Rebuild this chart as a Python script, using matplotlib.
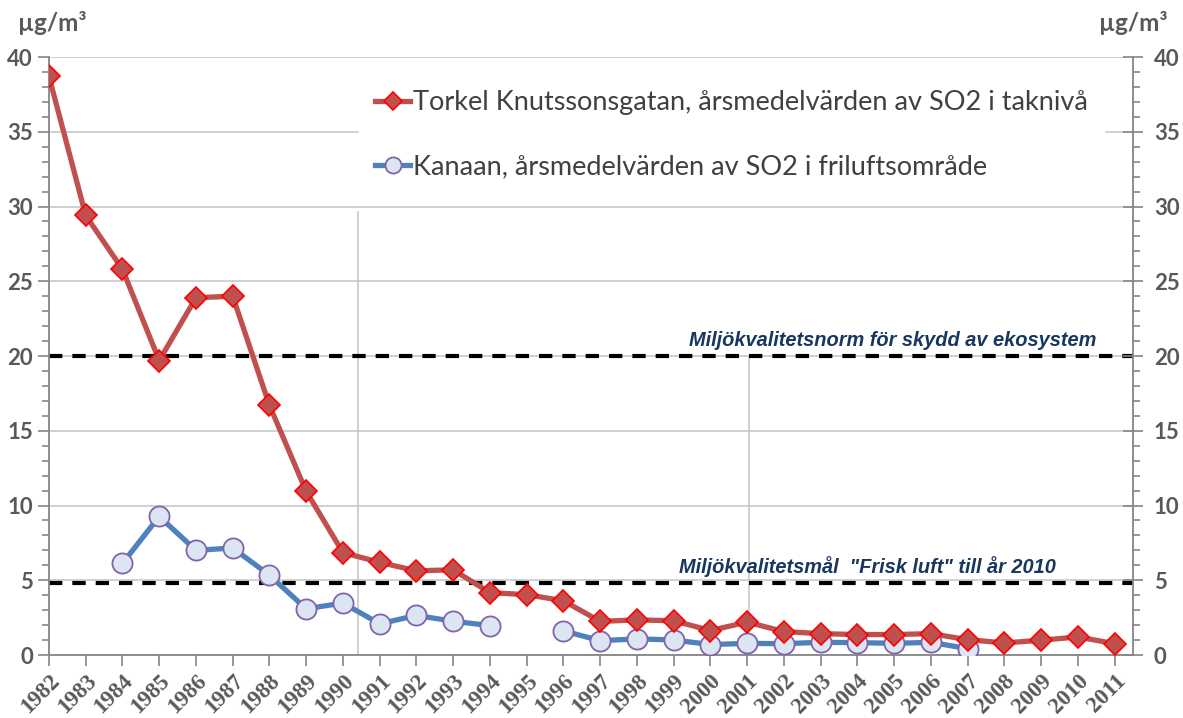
import numpy as np
import matplotlib
matplotlib.use('Agg')
import matplotlib.pyplot as plt
from matplotlib.ticker import MultipleLocator

years = list(range(1982, 2012))
torkel = [38.7, 29.4, 25.8, 19.7, 23.9, 24.0, 16.7, 10.95, 6.85, 6.2,
          5.63, 5.7, 4.17, 4.04, 3.63, 2.25, 2.35, 2.29, 1.64, 2.2,
          1.57, 1.43, 1.37, 1.37, 1.43, 1.03, 0.81, 0.99, 1.21, 0.76]
kanaan = [None, None, 6.13, 9.27, 7.0, 7.16, 5.34, 3.09, 3.48, 2.09,
          2.65, 2.26, 1.97, None, 1.62, 0.96, 1.08, 1.01, 0.70, 0.78,
          0.76, 0.85, 0.83, 0.78, 0.85, 0.43, None, None, None, None]
torkel_label = 'Torkel Knutssonsgatan, årsmedelvärden av SO2 i taknivå'
kanaan_label = 'Kanaan, årsmedelvärden av SO2 i friluftsområde'
norm_level = 20
norm_text = 'Miljökvalitetsnorm för skydd av ekosystem'
goal_level = 4.8
goal_text = 'Miljökvalitetsmål  "Frisk luft" till år 2010'
unit = 'µg/m³'

x = np.arange(len(years))
t = np.array(torkel, dtype=float)
k = np.array([np.nan if v is None else v for v in kanaan], dtype=float)

grey = '#595959'
navy = '#17375E'

fig = plt.figure(figsize=(11.83, 7.18), dpi=100)
ax = fig.add_axes([0.0414, 0.0877, 0.9163, 0.8329])

ax.set_xlim(0, len(years) - 0.5)
ax.set_ylim(0, 40)
ax.yaxis.set_major_locator(MultipleLocator(5))
ax.yaxis.set_minor_locator(MultipleLocator(1))
ax.grid(axis='y', color='#c8c8c8', linewidth=1.2, zorder=0)
ax.set_axisbelow(True)

# thin vertical marker lines
ax.plot([8.42, 8.42], [0, 29.6], color='#c8c8c8', lw=1.2, zorder=1)
ax.plot([19.04, 19.04], [0, norm_level], color='#c8c8c8', lw=1.2, zorder=1)

ax.axhline(norm_level, color='black', lw=3, dashes=(3.2, 2.4), zorder=2)
ax.axhline(goal_level, color='black', lw=3, dashes=(3.2, 2.4), zorder=2)

ax.plot(x, t, color='#C0504D', lw=3.8, marker='D', markersize=11,
        markerfacecolor='#C0504D', markeredgecolor='#FF0000', markeredgewidth=1.2,
        label=torkel_label, zorder=4)
ax.plot(x, k, color='#4F81BD', lw=3.8, marker='o', markersize=14.5,
        markerfacecolor='#DCE6F2', markeredgecolor='#7F64A8', markeredgewidth=1.3,
        label=kanaan_label, zorder=3)

ax.text(28.5, norm_level + 1.05, norm_text, ha='right', va='center', fontsize=14.4,
        fontweight='bold', fontstyle='italic', color=navy, family='Liberation Sans')
ax.text(27.4, goal_level + 1.15, goal_text, ha='right', va='center', fontsize=14.4,
        fontweight='bold', fontstyle='italic', color=navy, family='Liberation Sans')

ax.spines['top'].set_visible(False)
for s in ['left', 'bottom', 'right']:
    ax.spines[s].set_color('#868686')
    ax.spines[s].set_linewidth(1.3)

ax.set_xticks(x)
ax.set_xticklabels([str(y) for y in years], rotation=45, ha='right',
                   rotation_mode='anchor', fontsize=16.5, fontweight='bold',
                   family='Liberation Serif', color=grey)
ax.tick_params(axis='x', length=8, width=1.2, color='#868686', pad=3)
ax.tick_params(axis='y', which='major', length=8, width=1.2, color='#868686',
               labelsize=16, labelcolor=grey)
ax.tick_params(axis='y', which='minor', length=5, width=1.2, color='#868686')
for lab in ax.get_yticklabels():
    lab.set_fontweight('bold')
    lab.set_family('Lato')

ax2 = ax.twinx()
ax2.set_ylim(ax.get_ylim())
ax2.yaxis.set_major_locator(MultipleLocator(5))
ax2.yaxis.set_minor_locator(MultipleLocator(1))
ax2.tick_params(axis='y', which='major', direction='inout', length=14, width=1.2,
                color='#868686', labelsize=16, labelcolor=grey, pad=8)
ax2.tick_params(axis='y', which='minor', length=5, width=1.2, color='#868686')
for lab in ax2.get_yticklabels():
    lab.set_fontweight('bold')
    lab.set_family('Lato')
for s in ax2.spines.values():
    s.set_visible(False)

fig.text(0.015, 0.968, unit, fontsize=17.5, fontweight='bold', color=grey,
         family='Lato', va='center', ha='left')
fig.text(0.987, 0.968, unit, fontsize=17.5, fontweight='bold', color=grey,
         family='Lato', va='center', ha='right')

leg = ax.legend(loc='upper left', bbox_to_anchor=(0.286, 0.972), frameon=True,
                fancybox=False, handlelength=1.3, handletextpad=0.1,
                labelspacing=1.45, borderpad=0.6, borderaxespad=0,
                markerscale=0.8, prop={'family': 'Lato', 'size': 19.5})
leg.get_frame().set_facecolor('white')
leg.get_frame().set_edgecolor('white')
leg.get_frame().set_alpha(1)
for txt in leg.get_texts():
    txt.set_color('#404040')
leg.set_zorder(5)

fig.savefig('out.png', dpi=100)
